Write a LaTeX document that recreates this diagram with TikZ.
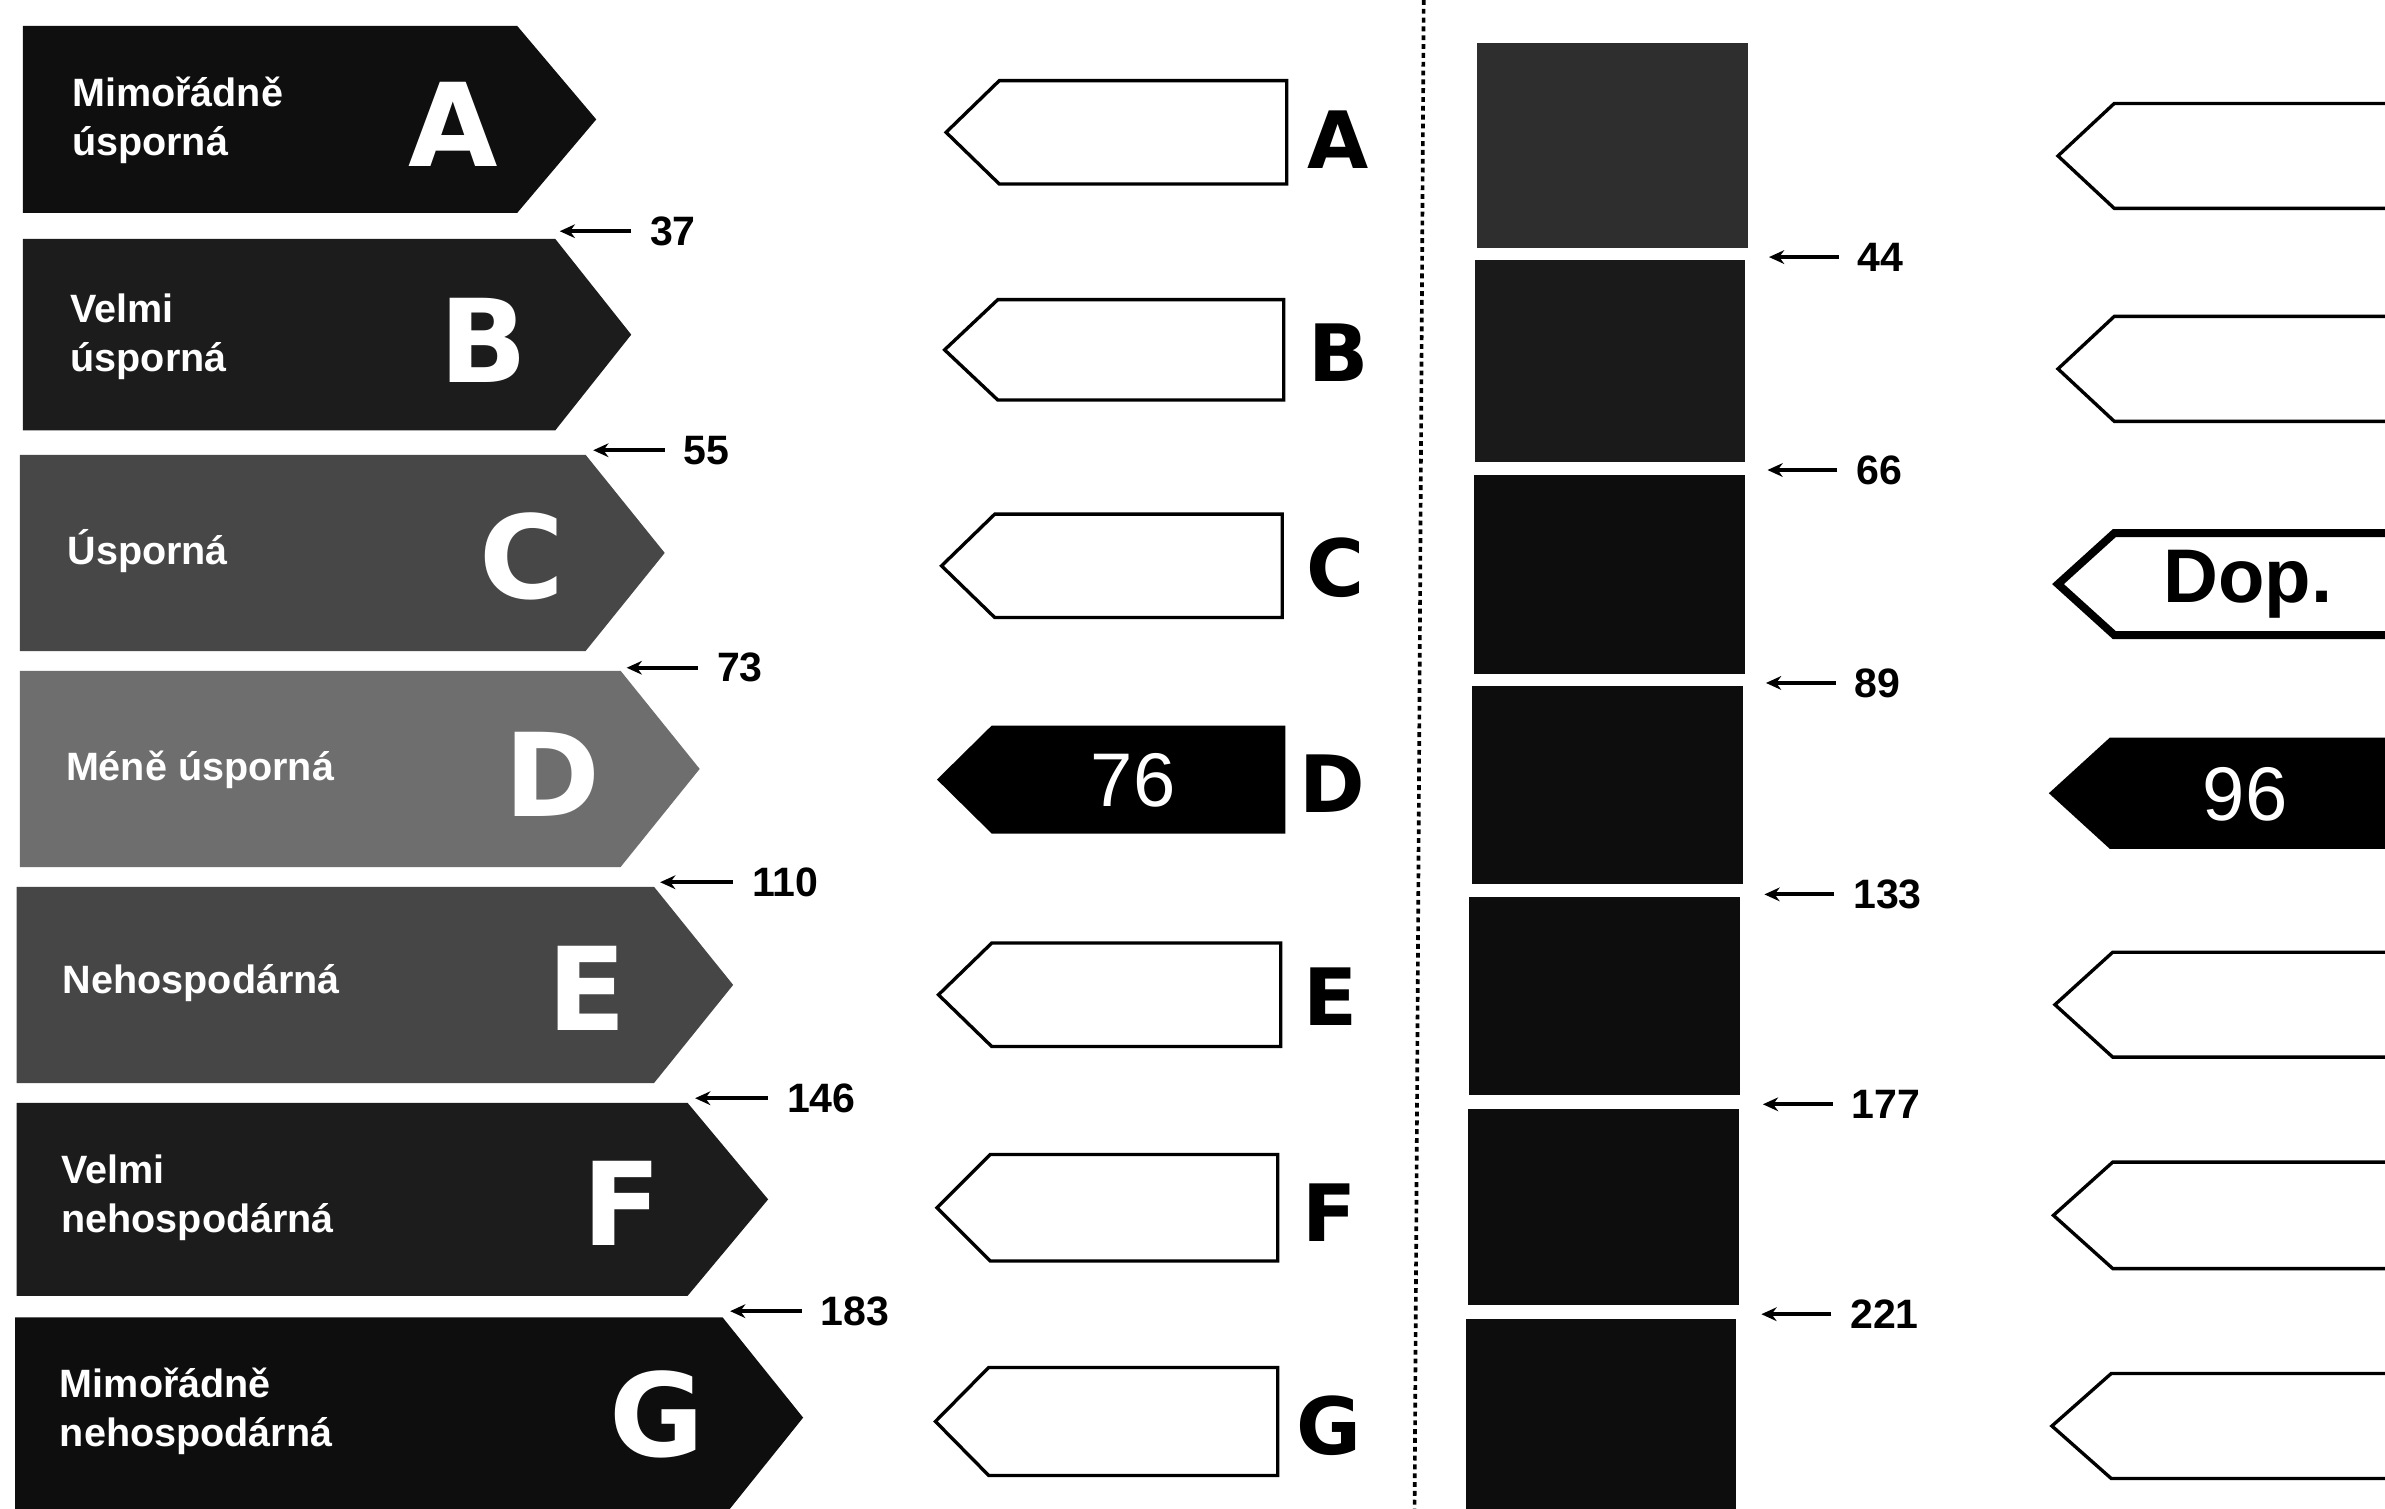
\documentclass[tikz,border=0pt]{standalone}
\usepackage{fontspec}
\setmainfont{Liberation Sans}
\newfontfamily\heavyfont{DejaVu Sans}
\usetikzlibrary{arrows.meta}
\definecolor{cA}{HTML}{0F0F0F}
\definecolor{cB}{HTML}{1C1C1C}
\definecolor{cC}{HTML}{474747}
\definecolor{cD}{HTML}{6E6E6E}
\definecolor{cE}{HTML}{464646}
\definecolor{cF}{HTML}{1C1C1C}
\definecolor{cG}{HTML}{0E0E0E}
\definecolor{barone}{HTML}{2E2E2E}
\definecolor{bartwo}{HTML}{1A1A1A}
\definecolor{barrest}{HTML}{0D0D0D}
\tikzset{
  lbl/.style={font=\bfseries\fontsize{13}{16}\selectfont, text=white, align=left, anchor=base west, inner sep=0pt},
  bigletter/.style={font=\heavyfont\bfseries\fontsize{38}{40}\selectfont, text=white, inner sep=0pt},
  midletter/.style={font=\heavyfont\bfseries\fontsize{26}{28}\selectfont, inner sep=0pt},
  num/.style={font=\bfseries\fontsize{13.5}{15}\selectfont, anchor=west, inner xsep=6pt, inner ysep=0pt},
  thr/.style={-{Stealth[length=5pt,width=4.5pt]}, line width=1.3pt},
  outl/.style={draw=black, line width=1.1pt, fill=white, line join=miter},
  valtext/.style={font=\fontsize{25}{28}\selectfont, text=white, inner sep=0pt},
}
\begin{document}
\begin{tikzpicture}[x=0.5pt,y=-0.5pt]
\useasboundingbox (0,0) rectangle (1568,992);
\clip (0,0) rectangle (1568,992);
\fill[white] (0,0) rectangle (1568,992);

% ---------- left scale ----------
\fill[cA] (15,17) -- (340,17) -- (392,78.5) -- (340,140) -- (15,140) -- cycle;
\fill[cB] (15,157) -- (365,157) -- (415,220) -- (365,283) -- (15,283) -- cycle;
\fill[cC] (13,299) -- (385,299) -- (437,363.5) -- (385,428) -- (13,428) -- cycle;
\fill[cD] (13,441) -- (408,441) -- (460,505.5) -- (408,570) -- (13,570) -- cycle;
\fill[cE] (11,583) -- (430,583) -- (482,647.5) -- (430,712) -- (11,712) -- cycle;
\fill[cF] (11,725) -- (452,725) -- (505,788.5) -- (452,852) -- (11,852) -- cycle;
\fill[cG] (10,866) -- (475,866) -- (528,932) -- (475,998) -- (10,998) -- cycle;

\node[lbl] (lA) at (47,102) {Mimořádně\\úsporná};
\node[lbl] (lB) at (46,244) {Velmi\\úsporná};
\node[lbl] (lC) at (44,371) {Úsporná};
\node[lbl] (lD) at (43,513) {Méně úsporná};
\node[lbl] (lE) at (41,653) {Nehospodárná};
\node[lbl] (lF) at (40,810) {Velmi\\nehospodárná};
\node[lbl] (lG) at (39,951) {Mimořádně\\nehospodárná};

\node[bigletter] (bA) at (298,82) {A};
\node[bigletter] (bB) at (318,224) {B};
\node[bigletter] (bC) at (343,366) {C};
\node[bigletter] (bD) at (363,509) {D};
\node[bigletter] (bE) at (386,650) {E};
\node[bigletter] (bF) at (409,791) {F};
\node[bigletter] (bG) at (432,930) {G};

\coordinate (h37) at (368,152);  \node[num] (t37) at (415,152) {37};  \draw[thr] (t37.west) -- (h37);
\coordinate (h55) at (390,296);  \node[num] (t55) at (437,296) {55};  \draw[thr] (t55.west) -- (h55);
\coordinate (h73) at (412,439);  \node[num] (t73) at (459,439) {73};  \draw[thr] (t73.west) -- (h73);
\coordinate (h110) at (434,580); \node[num] (t110) at (482,580) {110}; \draw[thr] (t110.west) -- (h110);
\coordinate (h146) at (457,722); \node[num] (t146) at (505,722) {146}; \draw[thr] (t146.west) -- (h146);
\coordinate (h183) at (480,862); \node[num] (t183) at (527,862) {183}; \draw[thr] (t183.west) -- (h183);

% ---------- middle column ----------
\draw[outl] (846,53) -- (657,53) -- (622,87) -- (657,121) -- (846,121) -- cycle;
\draw[outl] (844,197) -- (656,197) -- (621,230) -- (656,263) -- (844,263) -- cycle;
\draw[outl] (843,338) -- (654,338) -- (619,372) -- (654,406) -- (843,406) -- cycle;
\fill[black] (845,477) -- (652,477) -- (616,512.5) -- (652,548) -- (845,548) -- cycle;
\draw[outl] (842,620) -- (652,620) -- (617,654) -- (652,688) -- (842,688) -- cycle;
\draw[outl] (840,759) -- (651,759) -- (616,794) -- (651,829) -- (840,829) -- cycle;
\draw[outl] (840,899) -- (650,899) -- (615,934.5) -- (650,970) -- (840,970) -- cycle;
\node[valtext] (v76) at (745,513) {76};

\node[midletter] (mA) at (880,92) {A};
\node[midletter] (mB) at (880,232) {B};
\node[midletter] (mC) at (878,373) {C};
\node[midletter] (mD) at (876,515) {D};
\node[midletter] (mE) at (875,655) {E};
\node[midletter] (mF) at (874,797) {F};
\node[midletter] (mG) at (874,937) {G};

% ---------- divider ----------
\draw[line width=1.2pt, dash pattern=on 1.6pt off 1.3pt] (936,0) -- (930,992);

% ---------- right bars ----------
\fill[barone] (971,28) rectangle (1149,163);
\fill[bartwo] (970,171) rectangle (1147,304);
\fill[barrest] (969,312) rectangle (1147,443);
\fill[barrest] (968,451) rectangle (1146,581);
\fill[barrest] (966,590) rectangle (1144,720);
\fill[barrest] (965,729) rectangle (1143,858);
\fill[barrest] (964,867) rectangle (1141,1000);

\coordinate (h44) at (1163,169);  \node[num] (t44) at (1209,169) {44};  \draw[thr] (t44.west) -- (h44);
\coordinate (h66) at (1162,309);  \node[num] (t66) at (1208,309) {66};  \draw[thr] (t66.west) -- (h66);
\coordinate (h89) at (1161,449);  \node[num] (t89) at (1207,449) {89};  \draw[thr] (t89.west) -- (h89);
\coordinate (h133) at (1160,588); \node[num] (t133) at (1206,588) {133}; \draw[thr] (t133.west) -- (h133);
\coordinate (h177) at (1159,726); \node[num] (t177) at (1205,726) {177}; \draw[thr] (t177.west) -- (h177);
\coordinate (h221) at (1158,864); \node[num] (t221) at (1204,864) {221}; \draw[thr] (t221.west) -- (h221);

% ---------- right pentagons ----------
\draw[outl] (1620,68) -- (1390,68) -- (1353,102.5) -- (1390,137) -- (1620,137) -- cycle;
\draw[outl] (1620,208) -- (1390,208) -- (1353,242.5) -- (1390,277) -- (1620,277) -- cycle;
\draw[outl, line width=2.6pt] (1620,350.5) -- (1390,350.5) -- (1353,384) -- (1390,417.5) -- (1620,417.5) -- cycle;
\fill[black] (1620,485) -- (1387,485) -- (1347,521.5) -- (1387,558) -- (1620,558) -- cycle;
\draw[outl] (1620,626) -- (1389,626) -- (1351,660.5) -- (1389,695) -- (1620,695) -- cycle;
\draw[outl] (1620,764) -- (1389,764) -- (1350,799) -- (1389,834) -- (1620,834) -- cycle;
\draw[outl] (1620,903) -- (1388,903) -- (1349,937.5) -- (1388,972) -- (1620,972) -- cycle;

\node[font=\bfseries\fontsize{25}{28}\selectfont, inner sep=0pt, anchor=west] (dop) at (1422,384) {Dop.};
\node[valtext] (v96) at (1476,522) {96};
\end{tikzpicture}
\end{document}
